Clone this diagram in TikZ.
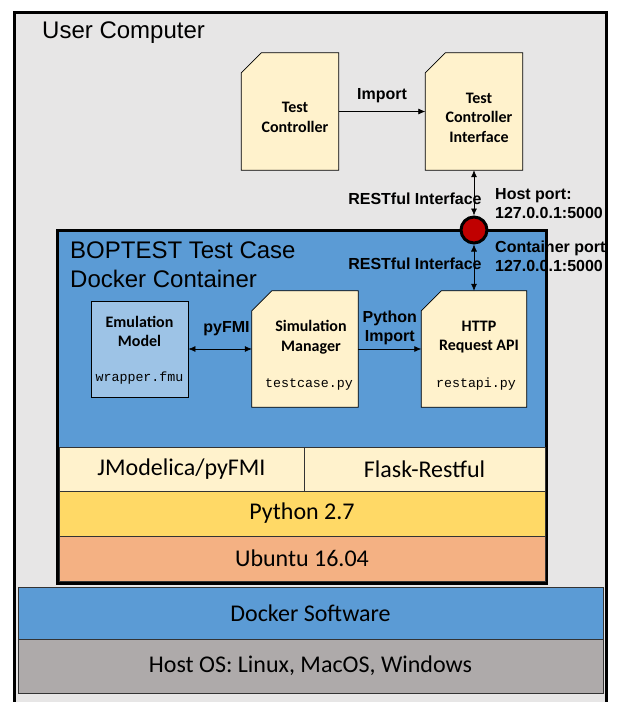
\documentclass[tikz,border=0pt]{standalone}
\usepackage{fontspec}
\setmainfont{Liberation Sans}
\setmonofont{Liberation Mono}
\newfontfamily\calibri{Carlito}
\usetikzlibrary{positioning,arrows.meta}

\definecolor{usergray}{HTML}{E7E6E6}
\definecolor{dockblue}{HTML}{5B9BD5}
\definecolor{emublue}{HTML}{9DC3E6}
\definecolor{docyellow}{HTML}{FFF2CC}
\definecolor{pyyellow}{HTML}{FFD966}
\definecolor{ubuorange}{HTML}{F4B183}
\definecolor{osgray}{HTML}{AEAAAA}
\definecolor{portred}{HTML}{C00000}

\tikzset{
    docbox/.style={rectangle, inner sep=0pt},
    docshape/.style={draw, line width=0.8pt, fill=docyellow},
    boxlbl/.style={font=\calibri\bfseries\fontsize{16}{19.5}\selectfont, align=center, inner sep=0pt},
    filelbl/.style={font=\ttfamily\fontsize{13.3}{16}\selectfont, inner sep=0pt},
    connlbl/.style={font=\bfseries\fontsize{16}{19}\selectfont, align=center, inner sep=0pt},
    stacklayer/.style={draw=black!80, line width=0.8pt, inner sep=0pt, font=\calibri\fontsize{24}{28}\selectfont},
    flow/.style={line width=0.7pt, -{Latex[length=7pt,width=6pt]}},
    biflow/.style={line width=0.7pt, {Latex[length=7pt,width=6pt]}-{Latex[length=7pt,width=6pt]}}
}

\begin{document}
\begin{tikzpicture}[x=1pt,y=-1pt]
        \useasboundingbox (0,0) rectangle (618,702);

        % user computer
        \fill[usergray] (14,12) rectangle (606,702);
        \draw[line width=3pt] (14,702) -- (14,12) -- (606,12) -- (606,702);
        \node[anchor=base west, inner sep=0pt, font=\fontsize{24}{29}\selectfont] (user) at (42,38) {User Computer};

        \node[docbox, minimum width=97pt, minimum height=117pt] (tc) at (290,111.5) {};
        \node[docbox, minimum width=97pt, minimum height=117pt] (tci) at (474,111.5) {};

        % container
        \node[draw, line width=3pt, fill=dockblue, minimum width=489pt, minimum height=353pt, inner sep=0pt] (cont) at (301.5,406.5) {};
        \node[anchor=north west, align=left, inner sep=0pt, font=\fontsize{24}{28.5}\selectfont] (contlbl) at (70,242) {BOPTEST Test Case\\Docker Container};

        \node[draw, line width=0.8pt, fill=emublue, minimum width=97pt, minimum height=96pt] (em) at (139.5,349) {};
        \node[docbox, minimum width=106pt, minimum height=116pt] (sm) at (305,349) {};
        \node[docbox, minimum width=105pt, minimum height=116pt] (api) at (474,349) {};

        % documents with a cut corner
        \foreach \n in {tc,tci,sm,api}
            \filldraw[docshape] ([xshift=20pt]\n.north west) -- (\n.north east) -- (\n.south east) -- (\n.south west) -- ([yshift=-20pt]\n.north west) -- cycle;

        \node[boxlbl] (tclbl) at ([shift={(5,6)}]tc.center) {Test\\Controller};
        \node[boxlbl] (tcilbl) at ([shift={(5,6)}]tci.center) {Test\\Controller\\Interface};
        \node[boxlbl] (emlbl) at ([shift={(0,-17.5)}]em.center) {Emulation\\Model};
        \node[boxlbl] (smlbl) at ([shift={(6,-12)}]sm.center) {Simulation\\Manager};
        \node[boxlbl] (apilbl) at ([shift={(5,-12)}]api.center) {HTTP\\Request API};
        \node[filelbl] (emfile) at ([shift={(0,29)}]em.center) {wrapper.fmu};
        \node[filelbl] (smfile) at ([shift={(4,35)}]sm.center) {testcase.py};
        \node[filelbl] (apifile) at ([shift={(2,35)}]api.center) {restapi.py};

        % software stack
        \node[stacklayer, fill=docyellow, minimum width=245pt, minimum height=44pt] (jmod) at (181.5,469) {JModelica/pyFMI};
        \node[stacklayer, fill=docyellow, minimum width=241pt, minimum height=44pt] (flask) at (424.5,469) {Flask-Restful};
        \foreach \n/\y/\c/\t in {py/513.5/pyyellow/Python 2.7, ubu/558.5/ubuorange/Ubuntu 16.04}
            \node[stacklayer, fill=\c, minimum width=486pt, minimum height=45pt] (\n) at (302,\y) {\t};
        \foreach \n/\y/\h/\c/\t in {dock/613/52/dockblue/Docker Software, host/666/54/osgray/{Host OS: Linux, MacOS, Windows}}
            \node[stacklayer, fill=\c, minimum width=585pt, minimum height=\h pt] (\n) at (310.5,\y) {\t};

        % port
        \node[circle, draw, line width=3pt, fill=portred, minimum size=26pt, inner sep=0pt] (port) at (474,230) {};
        \node[connlbl, align=left, anchor=west] (hostport) at ([shift={(21,-26)}]port.center) {Host port:\\127.0.0.1:5000};
        \node[connlbl, align=left, anchor=west] (contport) at ([shift={(21,26.5)}]port.center) {Container port\\127.0.0.1:5000};

        \draw[flow] (tc) -- node[connlbl, above=8pt] {Import} (tci);
        \draw[biflow] (tci.south) -- node[connlbl, pos=0.64, anchor=east, xshift=8pt] {RESTful Interface} (port.north);
        \draw[biflow] (port.south) -- node[connlbl, pos=0.42, anchor=east, xshift=8pt] {RESTful Interface} (api.north);
        \draw[biflow] (em) -- node[connlbl, pos=0.6, above=13pt] {pyFMI} (sm);
        \draw[flow] (sm) -- node[connlbl, above=4pt] {Python\\Import} (api);

    \end{tikzpicture}
\end{document}
